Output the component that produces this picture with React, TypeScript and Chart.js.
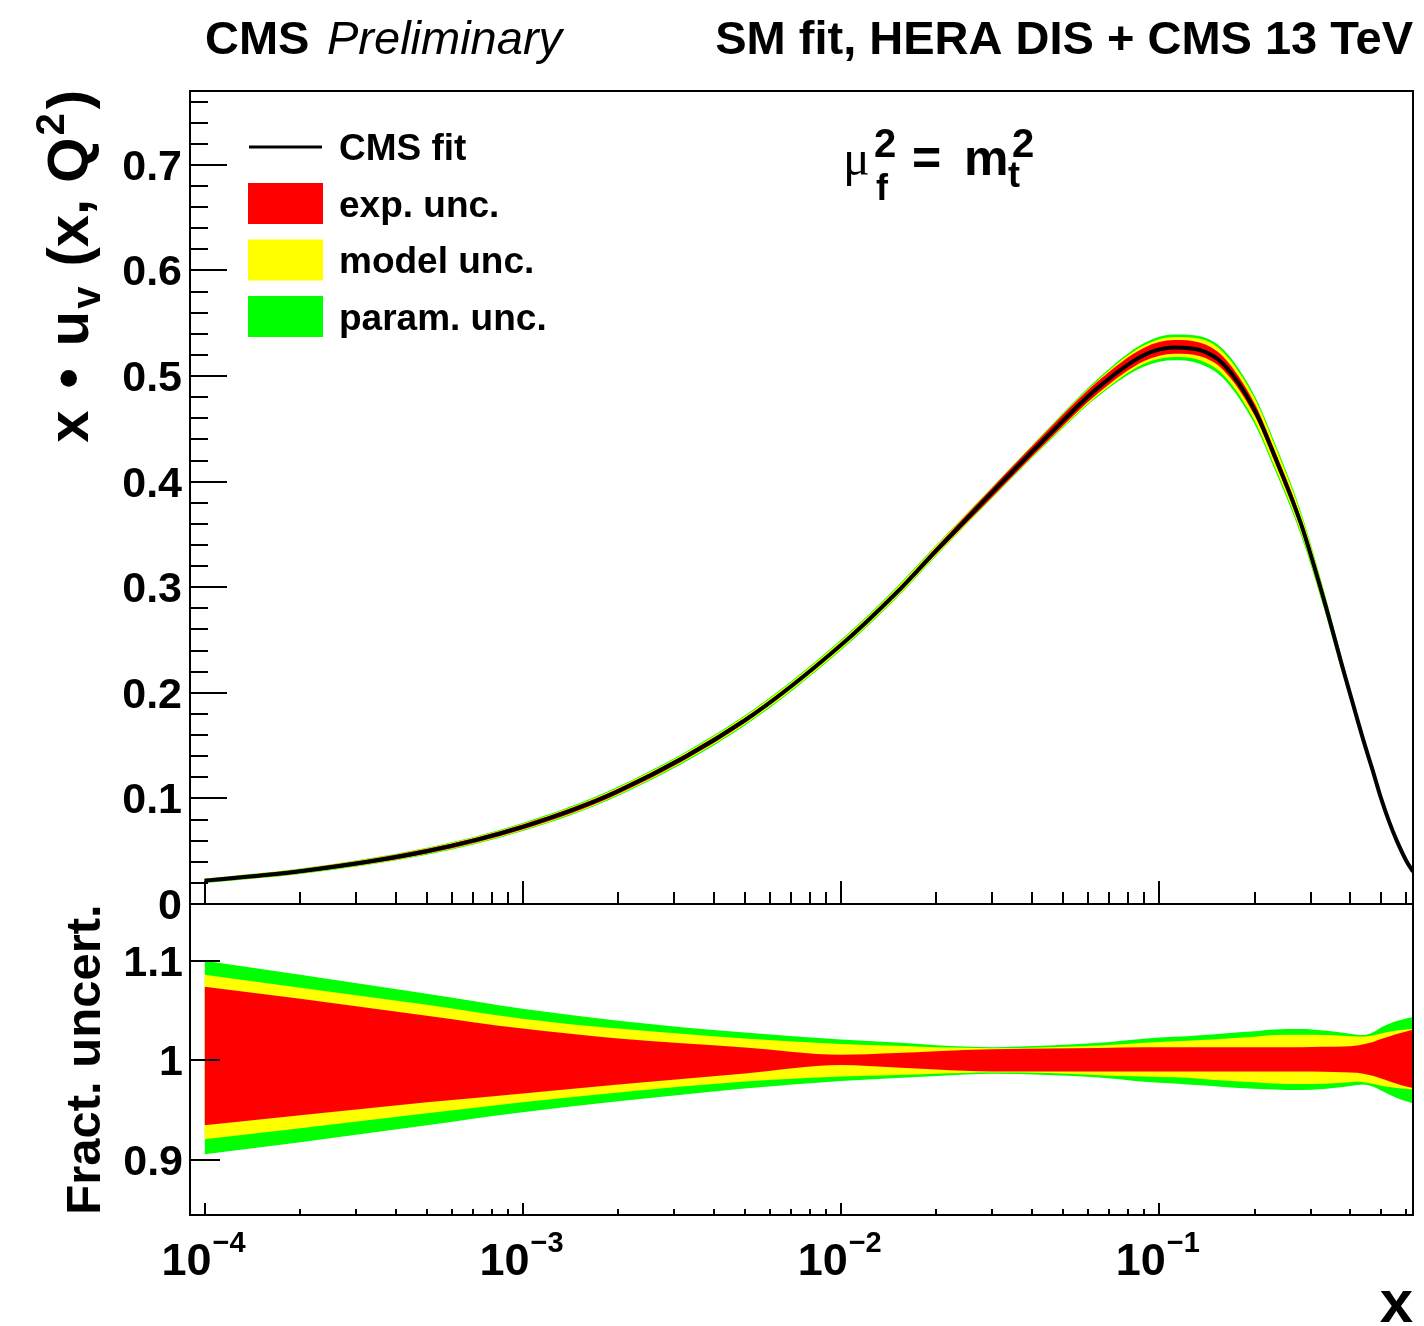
import React, { useEffect, useRef } from 'react';
import { Chart, registerables } from 'chart.js';

Chart.register(...registerables);

// ---------------- data ----------------
const X_VALUES = [1e-4, 2e-4, 5e-4, 1e-3, 2e-3, 5e-3, 1e-2, 1.5e-2, 2e-2, 3e-2, 4.5e-2, 6.5e-2, 9e-2, 0.112, 0.135, 0.16, 0.2, 0.23, 0.28, 0.33, 0.38, 0.42, 0.44, 0.47, 0.5, 0.53, 0.56, 0.6, 0.63];
const CENTRAL = [0.022, 0.031, 0.050, 0.073, 0.107, 0.174, 0.245, 0.295, 0.335, 0.390, 0.444, 0.490, 0.520, 0.527, 0.5245, 0.511, 0.468, 0.426, 0.360, 0.289, 0.222, 0.176, 0.155, 0.127, 0.100, 0.078, 0.060, 0.041, 0.0306];
const PARAM_UP = [1.100, 1.086, 1.067, 1.052, 1.040, 1.028, 1.021, 1.018, 1.0154, 1.0134, 1.015, 1.0178, 1.0219, 1.0237, 1.0254, 1.0272, 1.0293, 1.0312, 1.0316, 1.0302, 1.0278, 1.0258, 1.0255, 1.0281, 1.0332, 1.0368, 1.0395, 1.0422, 1.0436];
const PARAM_DN = [0.906, 0.918, 0.935, 0.948, 0.959, 0.972, 0.9795, 0.9825, 0.9844, 0.9866, 0.9855, 0.983, 0.9788, 0.977, 0.9751, 0.9735, 0.9717, 0.9709, 0.9703, 0.9713, 0.9733, 0.9753, 0.9759, 0.9739, 0.9699, 0.9659, 0.9625, 0.9592, 0.9572];
const MODEL_UP = [1.086, 1.073, 1.056, 1.042, 1.032, 1.022, 1.0165, 1.0147, 1.0132, 1.0124, 1.0134, 1.015, 1.0177, 1.0192, 1.0205, 1.0218, 1.0238, 1.0255, 1.0258, 1.0255, 1.0248, 1.0241, 1.0241, 1.0251, 1.0271, 1.0288, 1.0302, 1.0312, 1.0316];
const MODEL_DN = [0.921, 0.932, 0.947, 0.958, 0.968, 0.979, 0.984, 0.9855, 0.9868, 0.988, 0.9874, 0.9852, 0.984, 0.9831, 0.9818, 0.980, 0.9782, 0.9769, 0.9763, 0.9766, 0.9776, 0.9786, 0.9783, 0.9766, 0.9746, 0.9733, 0.9723, 0.9713, 0.9706];
const EXP_UP = [1.074, 1.062, 1.045, 1.032, 1.022, 1.013, 1.0058, 1.0076, 1.0094, 1.0114, 1.012, 1.0126, 1.0132, 1.0134, 1.0134, 1.0134, 1.0134, 1.0134, 1.0134, 1.0138, 1.0141, 1.0151, 1.0164, 1.0184, 1.0215, 1.0241, 1.0265, 1.0291, 1.0308];
const EXP_DN = [0.935, 0.945, 0.958, 0.967, 0.976, 0.987, 0.9955, 0.993, 0.991, 0.989, 0.989, 0.989, 0.989, 0.989, 0.989, 0.989, 0.989, 0.989, 0.989, 0.9887, 0.9883, 0.9877, 0.9866, 0.9846, 0.982, 0.9793, 0.9766, 0.9739, 0.9723];

const X_MIN = 9e-5;
const X_MAX = 0.63;
const TOP_Y_MIN = 0;
const TOP_Y_MAX = 0.77;
const BOT_Y_MIN = 0.845;
const BOT_Y_MAX = 1.157;

const TOP_Y_TICKS = [0, 0.1, 0.2, 0.3, 0.4, 0.5, 0.6, 0.7];
const TOP_Y_LABELS = ['0', '0.1', '0.2', '0.3', '0.4', '0.5', '0.6', '0.7'];
const TOP_Y_MINOR_STEP = 0.02;
const BOT_Y_TICKS = [0.9, 1, 1.1];
const BOT_Y_LABELS = ['0.9', '1', '1.1'];
const X_MAJOR = [1e-4, 1e-3, 1e-2, 1e-1];
const X_MAJOR_EXP = ['\u22124', '\u22123', '\u22122', '\u22121'];

const LEGEND_LABELS = ['CMS fit', 'exp. unc.', 'model unc.', 'param. unc.'];
const COLOR_EXP = '#ff0000';
const COLOR_MODEL = '#ffff00';
const COLOR_PARAM = '#00ff00';

// ---------------- layout ----------------
const W = 1424;
const H = 1326;
const FRAME_L = 190;
const FRAME_R = 1413;
const TOP_T = 91;
const MID = 904;
const BOT_B = 1215;
const FONT = '"Liberation Sans", Arial, Helvetica, sans-serif';
const bold = (px: number) => `bold ${px}px ${FONT}`;

type Part = { text: string; font: string; dy?: number; dx?: number };

function richWidth(ctx: CanvasRenderingContext2D, parts: Part[]) {
  let w = 0;
  for (const p of parts) {
    ctx.font = p.font;
    w += ctx.measureText(p.text).width + (p.dx || 0);
  }
  return w;
}

function drawRich(ctx: CanvasRenderingContext2D, parts: Part[], x: number, y: number, align: 'left' | 'center' | 'right') {
  const w = richWidth(ctx, parts);
  let cx = align === 'left' ? x : align === 'center' ? x - w / 2 : x - w;
  ctx.textAlign = 'left';
  ctx.textBaseline = 'alphabetic';
  for (const p of parts) {
    ctx.font = p.font;
    cx += p.dx || 0;
    ctx.fillText(p.text, cx, y + (p.dy || 0));
    cx += ctx.measureText(p.text).width;
  }
}

function xMinorValues(): number[] {
  const out: number[] = [];
  for (let e = -5; e <= 0; e++) {
    for (let k = 2; k <= 9; k++) {
      const v = k * Math.pow(10, e);
      if (v >= X_MIN && v <= X_MAX) out.push(v);
    }
  }
  return out;
}

function drawFrameAndXTicks(chart: any, majorLen: number, minorLen: number) {
  const { ctx, chartArea: a, scales } = chart;
  const xs = scales.x;
  ctx.strokeStyle = '#000';
  ctx.lineWidth = 2;
  ctx.strokeRect(a.left, a.top, a.right - a.left, a.bottom - a.top);
  ctx.beginPath();
  for (const v of X_MAJOR) {
    const px = Math.round(xs.getPixelForValue(v));
    ctx.moveTo(px, a.bottom);
    ctx.lineTo(px, a.bottom - majorLen);
  }
  for (const v of xMinorValues()) {
    const px = Math.round(xs.getPixelForValue(v));
    ctx.moveTo(px, a.bottom);
    ctx.lineTo(px, a.bottom - minorLen);
  }
  ctx.stroke();
}

const topPlugin = {
  id: 'rootTopPanel',
  afterDraw(chart: any) {
    const { ctx, chartArea: a, scales } = chart;
    const ys = scales.y;
    ctx.save();
    drawFrameAndXTicks(chart, 23, 12);
    // y ticks
    ctx.beginPath();
    const nMinor = Math.round((TOP_Y_MAX - TOP_Y_MIN) / TOP_Y_MINOR_STEP);
    for (let i = 0; i <= nMinor; i++) {
      const v = TOP_Y_MIN + i * TOP_Y_MINOR_STEP;
      if (v > TOP_Y_MAX) break;
      const py = Math.round(ys.getPixelForValue(v));
      ctx.moveTo(a.left, py);
      ctx.lineTo(a.left + 18, py);
    }
    for (const v of TOP_Y_TICKS) {
      const py = Math.round(ys.getPixelForValue(v));
      ctx.moveTo(a.left, py);
      ctx.lineTo(a.left + 37, py);
    }
    ctx.stroke();
    // y labels
    ctx.fillStyle = '#000';
    ctx.font = bold(43);
    ctx.textAlign = 'right';
    ctx.textBaseline = 'alphabetic';
    TOP_Y_TICKS.forEach((v, i) => {
      const py = ys.getPixelForValue(v);
      ctx.fillText(TOP_Y_LABELS[i], 182, py + 15);
    });
    // header
    ctx.textAlign = 'left';
    ctx.font = bold(47);
    ctx.fillText('CMS', 205, 54);
    ctx.font = `italic 47px ${FONT}`;
    ctx.fillText('Preliminary', 327, 54);
    ctx.textAlign = 'right';
    ctx.font = bold(47);
    ctx.fillText('SM fit, HERA DIS + CMS 13 TeV', 1413, 54);
    // legend
    ctx.textAlign = 'left';
    ctx.lineWidth = 3;
    ctx.beginPath();
    ctx.moveTo(249, 147);
    ctx.lineTo(322, 147);
    ctx.stroke();
    const boxColors = [COLOR_EXP, COLOR_MODEL, COLOR_PARAM];
    const rowY = [147, 203.5, 260, 316.5];
    boxColors.forEach((c, i) => {
      ctx.fillStyle = c;
      ctx.fillRect(248, rowY[i + 1] - 20.5, 75, 41);
    });
    ctx.fillStyle = '#000';
    ctx.font = bold(37);
    LEGEND_LABELS.forEach((t, i) => {
      ctx.fillText(t, 339, rowY[i] + 13);
    });
    // mu label
    ctx.font = `50px "Liberation Serif", "DejaVu Serif", serif`;
    ctx.fillText('\u03bc', 843, 175);
    ctx.font = bold(40);
    ctx.fillText('2', 874, 157);
    ctx.font = bold(36);
    ctx.fillText('f', 876, 200);
    ctx.font = bold(50);
    ctx.fillText('=', 912, 175);
    ctx.fillText('m', 964, 175);
    ctx.font = bold(36);
    ctx.fillText('t', 1008, 187);
    ctx.font = bold(40);
    ctx.fillText('2', 1012, 157);
    // y title
    ctx.save();
    ctx.translate(88, 90);
    ctx.rotate(-Math.PI / 2);
    drawRich(ctx, [
      { text: 'x', font: bold(58) },
      { text: '\u2022', font: bold(58), dx: 22 },
      { text: 'u', font: bold(58), dx: 22 },
      { text: 'v', font: bold(40), dy: 12, dx: 2 },
      { text: ' (x, Q', font: bold(58), dx: 4 },
      { text: '2', font: bold(40), dy: -24, dx: 2 },
      { text: ')', font: bold(58), dx: 4 },
    ], 0, 0, 'right');
    ctx.restore();
    ctx.restore();
  },
};

const bottomPlugin = {
  id: 'rootBottomPanel',
  afterDraw(chart: any) {
    const { ctx, chartArea: a, scales } = chart;
    const ys = scales.y;
    const xs = scales.x;
    ctx.save();
    drawFrameAndXTicks(chart, 12, 6);
    ctx.beginPath();
    for (const v of BOT_Y_TICKS) {
      const py = Math.round(ys.getPixelForValue(v));
      ctx.moveTo(a.left, py);
      ctx.lineTo(a.left + 30, py);
    }
    ctx.stroke();
    ctx.fillStyle = '#000';
    ctx.font = bold(43);
    ctx.textAlign = 'right';
    ctx.textBaseline = 'alphabetic';
    BOT_Y_TICKS.forEach((v, i) => {
      const py = ys.getPixelForValue(v);
      ctx.fillText(BOT_Y_LABELS[i], 183, py + 15);
    });
    // x labels
    X_MAJOR.forEach((v, i) => {
      const px = xs.getPixelForValue(v);
      drawRich(ctx, [
        { text: '10', font: bold(45) },
        { text: X_MAJOR_EXP[i], font: bold(29), dy: -23, dx: 1 },
      ], px - 1, 1275, 'center');
    });
    // x title
    ctx.textAlign = 'right';
    ctx.font = bold(60);
    ctx.fillText('x', 1413, 1322);
    // y title
    ctx.save();
    ctx.translate(100, (MID + BOT_B) / 2);
    ctx.rotate(-Math.PI / 2);
    ctx.textAlign = 'center';
    ctx.font = bold(49);
    ctx.fillText('Fract. uncert.', 0, 0);
    ctx.restore();
    ctx.restore();
  },
};

function bandDatasets(up: number[], dn: number[], color: string, order: number, top: boolean) {
  const pts = (arr: number[]) => X_VALUES.map((x, i) => ({ x, y: top ? CENTRAL[i] * arr[i] : arr[i] }));
  const common = {
    borderWidth: 0,
    borderColor: 'rgba(0,0,0,0)',
    pointRadius: 0,
    cubicInterpolationMode: 'monotone' as const,
    order,
  };
  return [
    { ...common, data: pts(up), fill: false },
    { ...common, data: pts(dn), fill: '-1', backgroundColor: color },
  ];
}

function makeConfig(top: boolean): any {
  const datasets: any[] = [];
  if (top) {
    datasets.push({
      data: X_VALUES.map((x, i) => ({ x, y: CENTRAL[i] })),
      borderColor: '#000',
      borderWidth: 4,
      pointRadius: 0,
      fill: false,
      cubicInterpolationMode: 'monotone',
      order: 0,
    });
  }
  datasets.push(...bandDatasets(EXP_UP, EXP_DN, COLOR_EXP, 1, top));
  datasets.push(...bandDatasets(MODEL_UP, MODEL_DN, COLOR_MODEL, 2, top));
  datasets.push(...bandDatasets(PARAM_UP, PARAM_DN, COLOR_PARAM, 3, top));
  return {
    type: 'line',
    data: { datasets },
    options: {
      responsive: false,
      animation: false,
      devicePixelRatio: 1,
      events: [],
      layout: {
        padding: top
          ? { left: FRAME_L, right: W - FRAME_R, top: TOP_T, bottom: H - MID }
          : { left: FRAME_L, right: W - FRAME_R, top: MID, bottom: H - BOT_B },
      },
      plugins: { legend: { display: false }, tooltip: { enabled: false } },
      scales: {
        x: { type: 'logarithmic', min: X_MIN, max: X_MAX, display: false },
        y: {
          type: 'linear',
          min: top ? TOP_Y_MIN : BOT_Y_MIN,
          max: top ? TOP_Y_MAX : BOT_Y_MAX,
          display: false,
        },
      },
    },
    plugins: [top ? topPlugin : bottomPlugin],
  };
}

export default function App() {
  const topRef = useRef<HTMLCanvasElement>(null);
  const botRef = useRef<HTMLCanvasElement>(null);
  useEffect(() => {
    const c1 = new Chart(topRef.current as HTMLCanvasElement, makeConfig(true));
    const c2 = new Chart(botRef.current as HTMLCanvasElement, makeConfig(false));
    return () => {
      c1.destroy();
      c2.destroy();
    };
  }, []);
  const cs: React.CSSProperties = { position: 'absolute', left: 0, top: 0, width: W, height: H };
  return (
    <div style={{ position: 'absolute', left: 0, top: 0, width: W, height: H, background: '#fff' }}>
      <canvas ref={botRef} width={W} height={H} style={cs} />
      <canvas ref={topRef} width={W} height={H} style={cs} />
    </div>
  );
}
